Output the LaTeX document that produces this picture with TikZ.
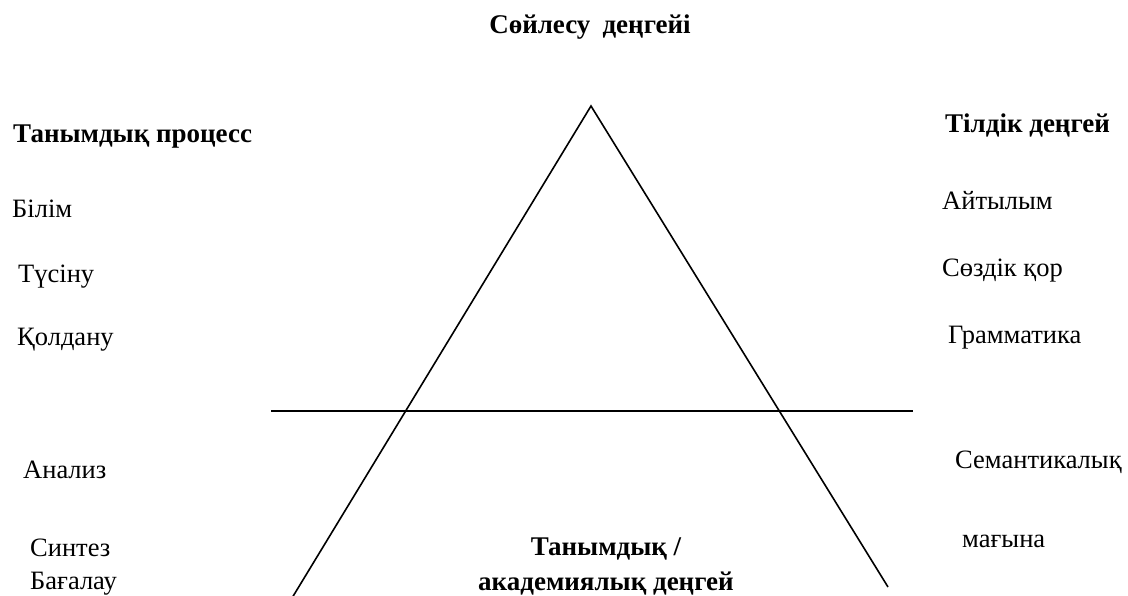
\documentclass[tikz,border=0pt]{standalone}
\usepackage{fontspec}
\setmainfont{Liberation Serif}
\usetikzlibrary{positioning}

\begin{document}
\begin{tikzpicture}[x=1pt, y=-1pt,
    heading/.style={font=\bfseries\fontsize{27}{31}\selectfont, anchor=base west, inner sep=0pt},
    level/.style={font=\bfseries\fontsize{27}{31}\selectfont, anchor=base, inner sep=0pt},
    item/.style={font=\fontsize{26.5}{31}\selectfont, anchor=base west, inner sep=0pt},
    edge/.style={line width=1.6pt, draw=black},
]
\useasboundingbox (0,0) rectangle (1128,596);

% Speaking level (top)
\node[level] (speak) at (590, 34) {Сөйлесу\hspace{0.2em} деңгейі};

% Triangle
\coordinate (apex) at (591, 106);
\coordinate (lfoot) at (292, 598);
\coordinate (rfoot) at (888, 587);
\draw[edge, line join=miter] (lfoot) -- (apex) -- (rfoot);

% Dividing line
\coordinate (cutl) at (271, 411);
\coordinate (cutr) at (913, 411);
\draw[edge] (cutl) -- (cutr);

% Cognitive process (left)
\node[heading] (cogproc) at (13, 143) {Танымдық процесс};
\node[item] (bilim) at (12, 218) {Білім};
\node[item] (tusinu) at (18, 283) {Түсіну};
\node[item] (qoldanu) at (17, 345) {Қолдану};
\node[item] (analiz) at (23, 478) {Анализ};
\node[item] (sintez) at (30, 556) {Синтез};
\node[item] (bagalau) at (30, 589) {Бағалау};

% Language level (right)
\node[heading] (tildik) at (945, 133) {Тілдік деңгей};
\node[item] (aitylym) at (942, 210) {Айтылым};
\node[item] (sozdik) at (942, 277) {Сөздік қор};
\node[item] (gramm) at (948, 343) {Грамматика};
\node[item] (semant) at (955, 468) {Семантикалық};
\node[item] (magyna) at (962, 547) {мағына};

% Cognitive / academic level (bottom)
\node[level] (cogacad1) at (606, 555) {Танымдық /};
\node[level] (cogacad2) at (606, 590) {академиялық деңгей};

\end{tikzpicture}
\end{document}
